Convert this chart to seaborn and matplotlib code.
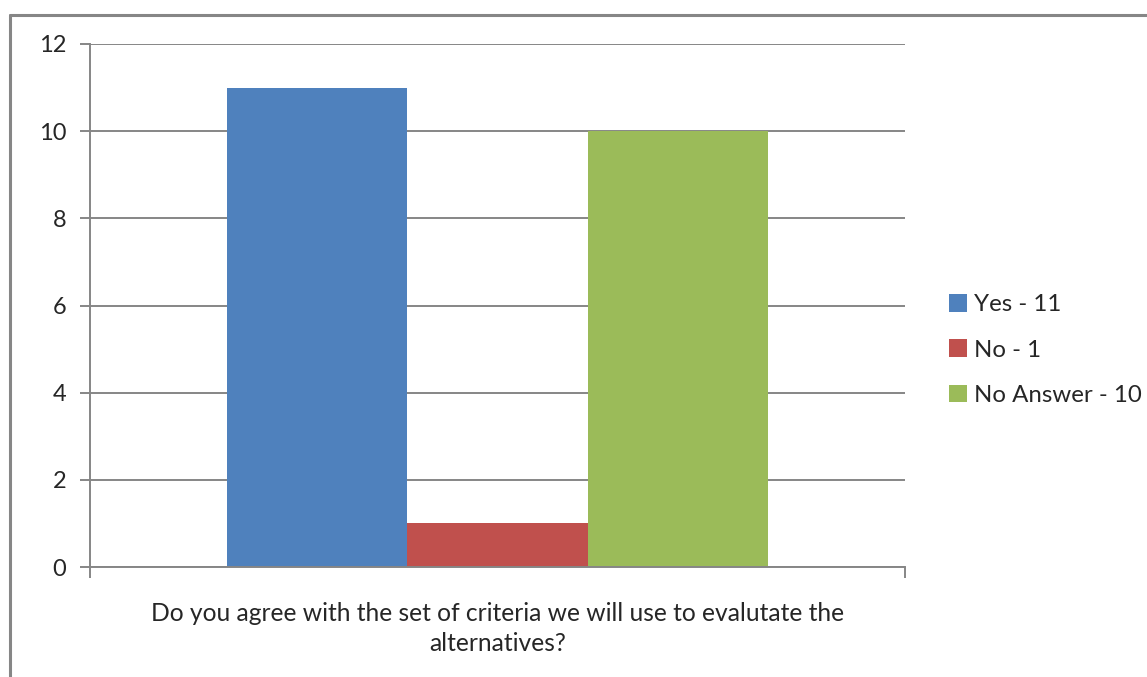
import matplotlib
matplotlib.use("Agg")
import matplotlib.pyplot as plt
from matplotlib.lines import Line2D
from matplotlib.patches import Patch
import seaborn as sns
import pandas as pd

# Survey responses
question = "Do you agree with the set of criteria we will use to evalutate the\nalternatives?"
answers = ["Yes", "No", "No Answer"]
counts = [11, 1, 10]
colors = ["#4F81BD", "#C0504D", "#9BBB59"]
y_ticks = [0, 2, 4, 6, 8, 10, 12]

df = pd.DataFrame({
    "question": [question] * len(answers),
    "answer": answers,
    "count": counts,
})

sns.set_theme(style="white")
plt.rcParams["font.family"] = ["Lato", "DejaVu Sans"]

fig = plt.figure(figsize=(11.47, 6.77), dpi=100)
ax = fig.add_axes([90 / 1147, 1 - 567 / 677, 815 / 1147, 523 / 677])

sns.barplot(
    data=df, x="question", y="count", hue="answer",
    hue_order=answers, palette=colors, width=0.665,
    saturation=1, dodge=True, legend=False, ax=ax,
)
for p in ax.patches:
    p.set_linewidth(0)

grid_c = "#868686"
ax.set_ylim(0, 12)
ax.set_xlim(-0.5, 0.5)
ax.set_yticks(y_ticks)
ax.set_yticklabels([str(t) for t in y_ticks], fontsize=17)
ax.yaxis.grid(True, color=grid_c, linewidth=1.4)
ax.set_axisbelow(True)

# category boundary ticks on the x axis
ax.set_xticks([-0.5, 0.5])
ax.set_xticklabels(["", ""])
ax.tick_params(axis="x", direction="out", length=8, width=1.4, color=grid_c, bottom=True)
ax.tick_params(axis="y", direction="out", length=7, width=1.4, color=grid_c, left=True, pad=10)

for side in ["top", "right"]:
    ax.spines[side].set_visible(False)
for side in ["left", "bottom"]:
    ax.spines[side].set_color(grid_c)
    ax.spines[side].set_linewidth(1.4)

ax.set_xlabel("")
ax.set_ylabel("")
ax.text(0.5, -0.066, question, transform=ax.transAxes, ha="center", va="top",
        fontsize=17.7, linespacing=1.4)

handles = [Patch(facecolor=c, edgecolor="none") for c in colors]
labels = [f"{a} - {n}" for a, n in zip(answers, counts)]
fig.legend(handles, labels, loc="center left", bbox_to_anchor=(937 / 1147, 1 - 350 / 677),
           frameon=False, fontsize=17.3, handlelength=0.75, handleheight=0.75,
           handletextpad=0.3, labelspacing=1.0, borderpad=0)

# chart area border
fig.add_artist(Line2D([10 / 1147, 1.0], [1 - 15 / 677, 1 - 15 / 677],
                      transform=fig.transFigure, color=grid_c, linewidth=2.2))
fig.add_artist(Line2D([10 / 1147, 10 / 1147], [0.0, 1 - 15 / 677],
                      transform=fig.transFigure, color=grid_c, linewidth=2.2))

fig.savefig("out.png", dpi=100, facecolor="white")
